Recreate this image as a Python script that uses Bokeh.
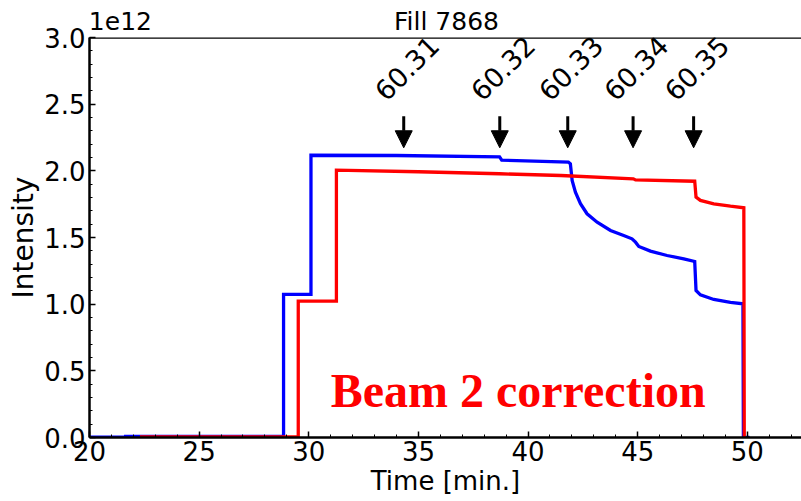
from bokeh.plotting import figure
from bokeh.models import (Range1d, Arrow, NormalHead, ColumnDataSource, Span, LinearAxis,
                          SingleIntervalTicker, FixedTicker, PrintfTickFormatter)
from bokeh.core.properties import value
from bokeh.embed import file_html
from bokeh.resources import INLINE

# ---- data (intensity in units of 1e12, time in minutes) ----
blue_t = [20.0, 21.65, 21.65, 28.85, 28.85, 30.1, 30.1, 34.0, 38.7, 38.8, 41.84, 41.93,
          42.01, 42.16, 42.39, 42.69, 43.15, 43.76, 44.36, 44.74, 44.9, 45.05, 45.58,
          46.34, 47.1, 47.6, 47.66, 47.86, 48.47, 49.23, 49.8, 49.82, 50.1]
blue_i = [0.002, 0.002, 0.008, 0.008, 1.073, 1.073, 2.117, 2.115, 2.105, 2.08, 2.065, 2.053,
          1.928, 1.84, 1.753, 1.678, 1.615, 1.553, 1.515, 1.49, 1.465, 1.433, 1.398,
          1.365, 1.34, 1.32, 1.103, 1.07, 1.035, 1.013, 1.003, 0.0, 0.0]

red_t = [22.3, 29.52, 29.52, 31.26, 31.26, 35.0, 38.7, 41.5, 44.8, 44.9, 47.6, 47.66,
         47.86, 48.47, 49.23, 49.84, 49.86]
red_i = [0.004, 0.004, 1.023, 1.023, 2.005, 1.993, 1.978, 1.965, 1.94, 1.932, 1.922, 1.803,
         1.778, 1.753, 1.735, 1.723, 0.0]

arrow_x = [34.33, 38.71, 41.81, 44.79, 47.55]
arrow_labels = ["60.31", "60.32", "60.33", "60.34", "60.35"]
arrow_top = 2.41
arrow_tip = 2.173
label_y = 2.77

annot_text = "Beam 2 correction"
annot_x = 31.0
annot_y = 0.35

title_text = "Fill 7868"
offset_text = "1e12"
# horizontal anchors (data x) of the texts above the frame
title_x = 36.28
offset_x = 21.41

x_ticks_interval = 5
y_ticks_interval = 0.5

FONT = "DejaVu Sans"

p = figure(width=801, height=501, x_range=Range1d(20, 52.47), y_range=Range1d(0, 3.0),
           output_backend="svg", toolbar_location=None, title=None,
           min_border_left=89, min_border_right=0, min_border_top=37, min_border_bottom=64)
p.outline_line_color = None
p.grid.visible = False
p.background_fill_color = "white"
p.border_fill_color = "white"

p.xaxis.ticker = SingleIntervalTicker(interval=x_ticks_interval, num_minor_ticks=5)
p.yaxis.ticker = SingleIntervalTicker(interval=y_ticks_interval, num_minor_ticks=5)
p.yaxis.formatter = PrintfTickFormatter(format="%.1f")
p.xaxis.axis_label = "Time [min.]"
p.yaxis.axis_label = "Intensity"
for ax in (p.xaxis, p.yaxis):
    ax.axis_line_width = 2.5
    ax.axis_line_color = "black"
    ax.major_tick_in = 6
    ax.major_tick_out = 0
    ax.minor_tick_in = 3
    ax.minor_tick_out = 0
    ax.major_tick_line_width = 1.5
    ax.minor_tick_line_width = 1
    ax.major_label_text_font = FONT
    ax.major_label_text_font_size = "26px"
    ax.major_label_text_color = "black"
    ax.axis_label_text_font = FONT
    ax.axis_label_text_font_style = "normal"
    ax.axis_label_text_color = "black"
p.xaxis.axis_label_text_font_size = "26px"
p.yaxis.axis_label_text_font_size = "28px"
p.xaxis.major_label_standoff = 3
p.xaxis.axis_label_standoff = 2
p.yaxis.major_label_standoff = 4
p.yaxis.axis_label_standoff = 1

# texts above the frame: offset "1e12" and the title, carried by a bare top axis
top_axis = LinearAxis(ticker=FixedTicker(ticks=[offset_x, title_x], minor_ticks=[]),
                      major_label_overrides={offset_x: offset_text, title_x: title_text},
                      axis_line_color=None, major_tick_line_color=None,
                      minor_tick_line_color=None, major_tick_in=0, major_tick_out=0,
                      major_label_standoff=2, major_label_text_font=FONT,
                      major_label_text_font_size="25px", major_label_text_color="black")
p.add_layout(top_axis, "above")

p.add_layout(Span(location=3.0, dimension="width", line_color="black", line_width=2.5))

p.line(blue_t, blue_i, line_color="#0000ff", line_width=3.3, line_join="miter")
p.line(red_t, red_i, line_color="#ff0000", line_width=3.3, line_join="miter")

asrc = ColumnDataSource(dict(x=arrow_x, y0=[arrow_top] * len(arrow_x),
                             y1=[arrow_tip] * len(arrow_x), lab=arrow_labels,
                             ly=[label_y] * len(arrow_x)))
p.add_layout(Arrow(end=NormalHead(size=17, fill_color="black", line_color="black"),
                   x_start="x", y_start="y0", x_end="x", y_end="y1", source=asrc,
                   line_width=3, line_color="black"))
p.text(x="x", y="ly", text="lab", source=asrc, angle=45, angle_units="deg",
       text_align="center", text_baseline="middle", x_offset=3,
       text_font=value(FONT), text_font_size="27px", text_color="black")

p.text(x=[annot_x], y=[annot_y], text=[annot_text], text_font=value("Liberation Serif"),
       text_font_style="bold", text_font_size="48px", text_color="#ff0000",
       text_baseline="alphabetic", text_align="left")

open("out.html", "w").write(file_html(p, INLINE))
